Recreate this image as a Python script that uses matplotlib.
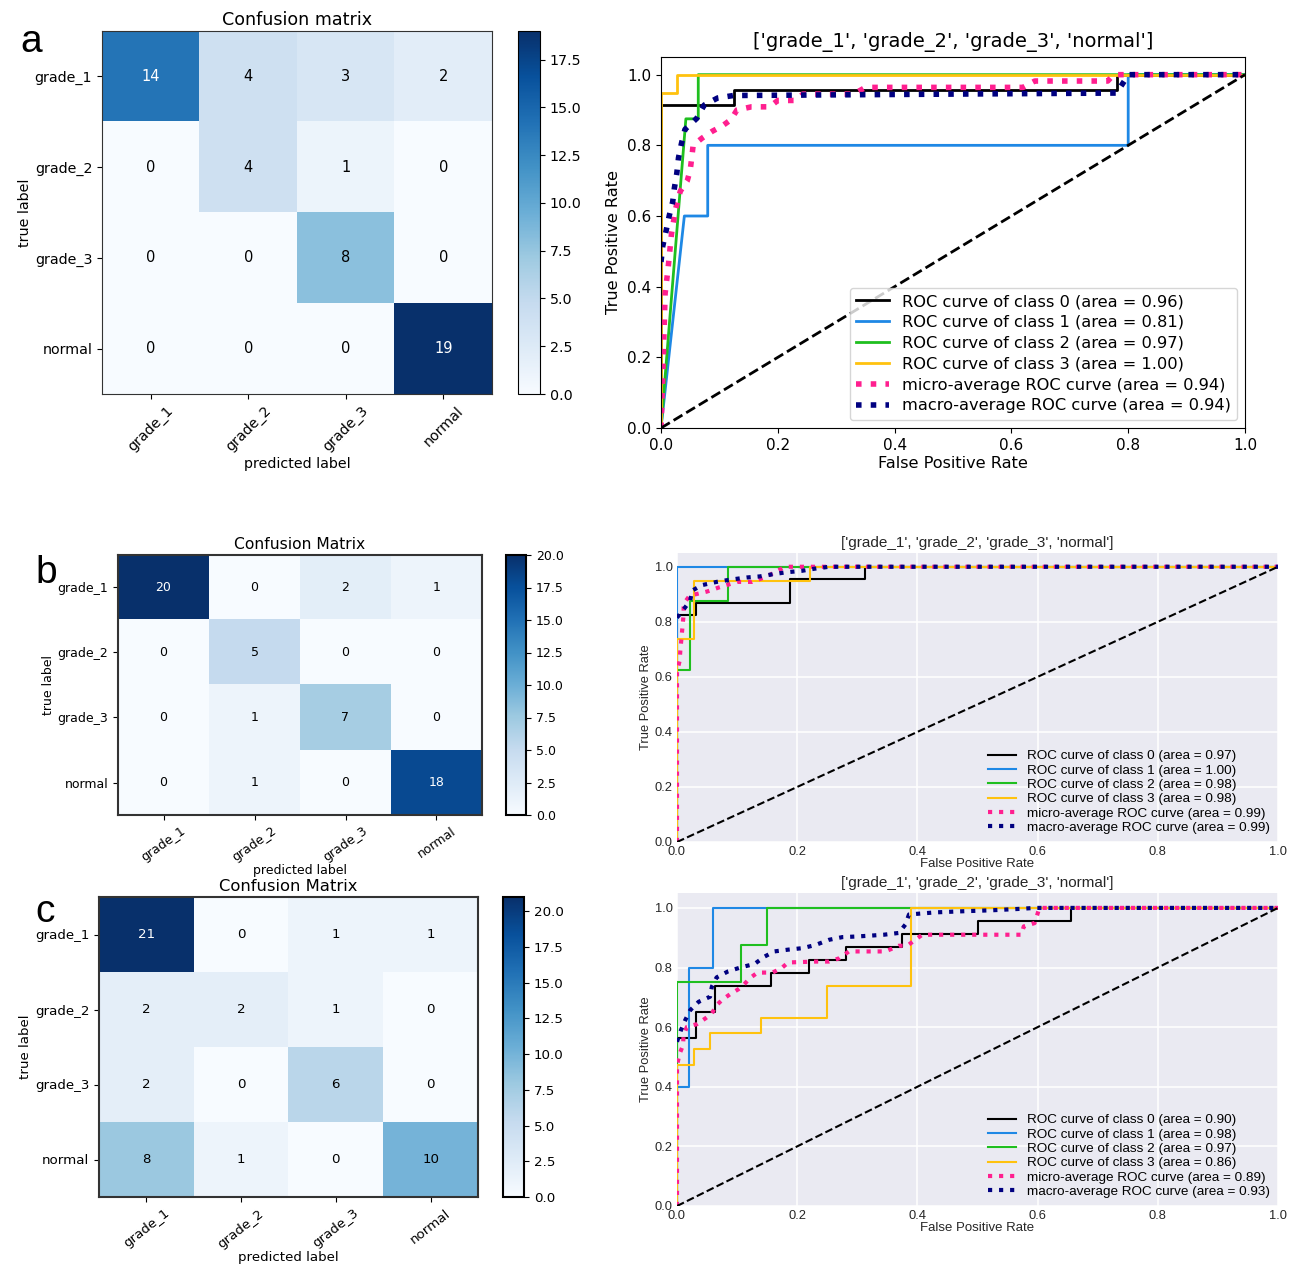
import matplotlib
matplotlib.use("Agg")
import matplotlib.pyplot as plt
import numpy as np

# ---------------------------------------------------------------- data
classes = ["grade_1", "grade_2", "grade_3", "normal"]

cm_a = [[14, 4, 3, 2], [0, 4, 1, 0], [0, 0, 8, 0], [0, 0, 0, 19]]
cm_b = [[20, 0, 2, 1], [0, 5, 0, 0], [0, 1, 7, 0], [0, 1, 0, 18]]
cm_c = [[21, 0, 1, 1], [2, 2, 1, 0], [2, 0, 6, 0], [8, 1, 0, 10]]

# per-class ROC curves (fpr, tpr) for model a
a_fpr0 = [0, 0, 0.125, 0.125, 0.781, 0.781, 1]
a_tpr0 = [0, 0.913, 0.913, 0.957, 0.957, 1, 1]
a_fpr1 = [0, 0.04, 0.08, 0.08, 0.8, 0.8, 1]
a_tpr1 = [0, 0.6, 0.6, 0.8, 0.8, 1, 1]
a_fpr2 = [0, 0.0426, 0.0638, 0.0638, 1]
a_tpr2 = [0, 0.875, 0.875, 1, 1]
a_fpr3 = [0, 0, 0.0278, 0.0278, 1]
a_tpr3 = [0, 0.947, 0.947, 1, 1]
a_fpr_micro = [0, 0.004, 0.007, 0.012, 0.018, 0.025, 0.033, 0.045, 0.05, 0.053,
               0.055, 0.07, 0.088, 0.105, 0.12, 0.13, 0.155, 0.186, 0.2, 0.23,
               0.243, 0.33, 0.35, 0.62, 0.64, 0.765, 0.775, 1]
a_tpr_micro = [0, 0.2, 0.38, 0.45, 0.55, 0.62, 0.67, 0.70, 0.73, 0.77,
               0.80, 0.82, 0.84, 0.855, 0.873, 0.9, 0.909, 0.909, 0.927, 0.927,
               0.945, 0.945, 0.964, 0.964, 0.982, 0.982, 1, 1]
a_fpr_macro = [0, 0.003, 0.009, 0.014, 0.02, 0.023, 0.027, 0.03, 0.035, 0.041,
               0.061, 0.074, 0.097, 0.124, 0.78, 0.795, 0.8, 1]
a_tpr_macro = [0.47, 0.515, 0.56, 0.6, 0.64, 0.68, 0.72, 0.765, 0.805, 0.845,
               0.876, 0.914, 0.934, 0.941, 0.948, 0.986, 1, 1]
a_auc = [0.96, 0.81, 0.97, 1.00, 0.94, 0.94]

# model b
b_fpr0 = [0, 0, 0.031, 0.031, 0.1875, 0.1875, 0.3125, 0.3125, 1]
b_tpr0 = [0, 0.826, 0.826, 0.870, 0.870, 0.957, 0.957, 1, 1]
b_fpr1 = [0, 0, 1]
b_tpr1 = [0, 1, 1]
b_fpr2 = [0, 0, 0.0213, 0.0213, 0.085, 0.085, 1]
b_tpr2 = [0, 0.625, 0.625, 0.875, 0.875, 1, 1]
b_fpr3 = [0, 0, 0.0278, 0.0278, 0.222, 0.222, 1]
b_tpr3 = [0, 0.737, 0.737, 0.947, 0.947, 1, 1]
b_fpr_micro = [0, 0, 0.0044, 0.0055, 0.008, 0.011, 0.011, 0.021, 0.05, 0.07,
               0.1, 0.125, 0.15, 0.165, 0.18, 1]
b_tpr_micro = [0, 0.62, 0.658, 0.694, 0.755, 0.827, 0.865, 0.895, 0.91, 0.925,
               0.945, 0.945, 0.965, 0.983, 1, 1]
b_fpr_macro = [0, 0.011, 0.022, 0.025, 0.041, 0.066, 0.088, 0.116, 0.138, 0.16,
               0.182, 0.207, 0.229, 0.253, 1]
b_tpr_macro = [0.815, 0.845, 0.877, 0.913, 0.933, 0.945, 0.953, 0.961, 0.965, 0.973,
               0.98, 0.985, 0.993, 1, 1]
b_auc = [0.97, 1.00, 0.98, 0.98, 0.99, 0.99]

# model c
c_fpr0 = [0, 0, 0.03125, 0.03125, 0.0625, 0.0625, 0.156, 0.156, 0.219, 0.219,
          0.281, 0.281, 0.375, 0.375, 0.5, 0.5, 0.656, 0.656, 1]
c_tpr0 = [0, 0.565, 0.565, 0.652, 0.652, 0.739, 0.739, 0.783, 0.783, 0.826,
          0.826, 0.870, 0.870, 0.913, 0.913, 0.957, 0.957, 1, 1]
c_fpr1 = [0, 0, 0.02, 0.02, 0.06, 0.06, 1]
c_tpr1 = [0, 0.4, 0.4, 0.8, 0.8, 1, 1]
c_fpr2 = [0, 0, 0.1064, 0.1064, 0.149, 0.149, 1]
c_tpr2 = [0, 0.75, 0.75, 0.875, 0.875, 1, 1]
c_fpr3 = [0, 0, 0.0278, 0.0278, 0.0556, 0.0556, 0.139, 0.139, 0.25, 0.25,
          0.389, 0.389, 1]
c_tpr3 = [0, 0.474, 0.474, 0.526, 0.526, 0.579, 0.579, 0.632, 0.632, 0.737,
          0.737, 1, 1]
c_fpr_micro = [0, 0, 0.0044, 0.01, 0.011, 0.0165, 0.033, 0.047, 0.058, 0.066,
               0.076, 0.088, 0.102, 0.112, 0.121, 0.134, 0.159, 0.174, 0.185, 0.231,
               0.253, 0.27, 0.286, 0.347, 0.369, 0.383, 0.408, 0.573, 0.577, 0.595,
               0.603, 1]
c_tpr_micro = [0, 0.472, 0.511, 0.539, 0.573, 0.601, 0.61, 0.629, 0.646, 0.674,
               0.693, 0.71, 0.727, 0.744, 0.764, 0.783, 0.783, 0.798, 0.817, 0.82,
               0.82, 0.831, 0.854, 0.854, 0.873, 0.873, 0.91, 0.91, 0.938, 0.949,
               1, 1]
c_fpr_macro = [0, 0.0066, 0.0138, 0.022, 0.036, 0.055, 0.058, 0.066, 0.085, 0.107,
               0.129, 0.146, 0.162, 0.185, 0.209, 0.231, 0.253, 0.275, 0.298, 0.322,
               0.344, 0.369, 0.38, 0.386, 0.43, 0.479, 0.523, 0.573, 0.595, 1]
c_tpr_macro = [0.551, 0.59, 0.624, 0.657, 0.685, 0.702, 0.736, 0.767, 0.787, 0.801,
               0.812, 0.837, 0.854, 0.86, 0.865, 0.876, 0.893, 0.902, 0.904, 0.907,
               0.91, 0.916, 0.944, 0.978, 0.985, 0.989, 0.992, 0.997, 1, 1]
c_auc = [0.90, 0.98, 0.97, 0.86, 0.89, 0.93]

class_colors = ["black", "#1e88e5", "#1fbf1f", "#ffc20e"]
micro_color = "#ff1f8f"
macro_color = "#000080"

W, H = 1301, 1266
fig = plt.figure(figsize=(W / 100, H / 100), dpi=100)


def rect(x0, y0, x1, y1):
    return [x0 / W, 1 - y1 / H, (x1 - x0) / W, (y1 - y0) / H]


def draw_cm(cm, ax_box, cb_box, title, fs_tick, fs_title, fs_num, rot,
            spine_lw=0.8, xlabelpad=2):
    cm = np.array(cm)
    ax = fig.add_axes(rect(*ax_box))
    im = ax.imshow(cm, cmap="Blues", interpolation="nearest", aspect="auto")
    ax.set_title(title, fontsize=fs_title, pad=4)
    ax.set_xticks(range(len(classes)))
    ax.set_yticks(range(len(classes)))
    ax.set_xticklabels(classes, rotation=rot, fontsize=fs_tick)
    ax.set_yticklabels(classes, fontsize=fs_tick)
    ax.set_xlabel("predicted label", fontsize=fs_tick, labelpad=xlabelpad)
    ax.set_ylabel("true label", fontsize=fs_tick, labelpad=2)
    thresh = cm.max() / 2.0
    for i in range(cm.shape[0]):
        for j in range(cm.shape[1]):
            ax.text(j, i, str(cm[i, j]), ha="center", va="center", fontsize=fs_num,
                    color="white" if cm[i, j] > thresh else "black")
    for s in ax.spines.values():
        s.set_linewidth(spine_lw)
        s.set_color("#333333")
    cax = fig.add_axes(rect(*cb_box))
    cb = fig.colorbar(im, cax=cax)
    cb.ax.tick_params(labelsize=fs_tick)
    cb.outline.set_linewidth(spine_lw)
    return ax


def roc_curves(ax, curves, auc, lw_cls, lw_avg):
    for k in range(4):
        fpr, tpr = curves[k]
        ax.plot(fpr, tpr, color=class_colors[k], lw=lw_cls,
                label="ROC curve of class {0} (area = {1:0.2f})".format(k, auc[k]))
    ax.plot(curves[4][0], curves[4][1], color=micro_color, ls=":", lw=lw_avg,
            label="micro-average ROC curve (area = {0:0.2f})".format(auc[4]))
    ax.plot(curves[5][0], curves[5][1], color=macro_color, ls=":", lw=lw_avg,
            label="macro-average ROC curve (area = {0:0.2f})".format(auc[5]))
    ax.plot([0, 1], [0, 1], "k--", lw=lw_cls)
    ax.set_xlim(0.0, 1.0)
    ax.set_ylim(0.0, 1.05)


title_roc = str(classes)

# ---------------------------------------------------------------- panel a
draw_cm(cm_a, (102, 31, 492, 394), (518, 31, 540, 394), "Confusion matrix",
        10.3, 12.6, 10.5, 45)

ax = fig.add_axes(rect(661, 57, 1245, 428))
roc_curves(ax, [(a_fpr0, a_tpr0), (a_fpr1, a_tpr1), (a_fpr2, a_tpr2), (a_fpr3, a_tpr3),
                (a_fpr_micro, a_tpr_micro), (a_fpr_macro, a_tpr_macro)], a_auc, 2, 4)
ax.set_title(title_roc, fontsize=14, pad=7)
ax.set_xlabel("False Positive Rate", fontsize=11.6, labelpad=2)
ax.set_ylabel("True Positive Rate", fontsize=11.6, labelpad=4)
ax.tick_params(labelsize=11)
ax.legend(loc="lower right", fontsize=11.7, labelspacing=0.36)

# ---------------------------------------------------------------- panels b, c
roc_font = "Liberation Sans"


def dark_roc(box, curves, auc):
    ax = fig.add_axes(rect(*box))
    ax.set_facecolor("#EAEAF2")
    ax.grid(True, color="white", lw=1.1)
    ax.set_axisbelow(True)
    for s in ax.spines.values():
        s.set_visible(False)
    roc_curves(ax, curves, auc, 1.5, 3)
    ax.set_xticks([0, 0.2, 0.4, 0.6, 0.8, 1.0])
    ax.set_yticks([0, 0.2, 0.4, 0.6, 0.8, 1.0])
    ax.tick_params(length=0, labelsize=9.3, colors="#262626", pad=3)
    for lab in ax.get_xticklabels() + ax.get_yticklabels():
        lab.set_family(roc_font)
    ax.set_title(title_roc, fontsize=11, family=roc_font, color="#262626", pad=4)
    ax.set_xlabel("False Positive Rate", fontsize=9.5, family=roc_font,
                  color="#262626", labelpad=0)
    ax.set_ylabel("True Positive Rate", fontsize=9.3, family=roc_font,
                  color="#262626", labelpad=2)
    ax.legend(loc="lower right", frameon=False, labelspacing=0.14,
              prop={"family": roc_font, "size": 9.7}, handlelength=2.1,
              borderaxespad=0.2)
    return ax


draw_cm(cm_b, (118, 555, 482, 815), (506, 555, 526, 815), "Confusion Matrix",
        9.0, 11.2, 9.0, 35, spine_lw=1.5, xlabelpad=0)
dark_roc((677, 553, 1278, 842),
         [(b_fpr0, b_tpr0), (b_fpr1, b_tpr1), (b_fpr2, b_tpr2), (b_fpr3, b_tpr3),
          (b_fpr_micro, b_tpr_micro), (b_fpr_macro, b_tpr_macro)], b_auc)

draw_cm(cm_c, (99, 897, 478, 1197), (503, 897, 524, 1197), "Confusion Matrix",
        9.6, 11.8, 9.6, 38, spine_lw=1.5, xlabelpad=0)
dark_roc((677, 893, 1278, 1206),
         [(c_fpr0, c_tpr0), (c_fpr1, c_tpr1), (c_fpr2, c_tpr2), (c_fpr3, c_tpr3),
          (c_fpr_micro, c_tpr_micro), (c_fpr_macro, c_tpr_macro)], c_auc)

# panel letters
for letter, (x, y) in zip("abc", [(31, 42), (46, 573), (45, 912)]):
    fig.text(x / W, 1 - y / H, letter, fontsize=28, family="Liberation Sans",
             ha="center", va="center")

fig.savefig("out.png", dpi=100)
